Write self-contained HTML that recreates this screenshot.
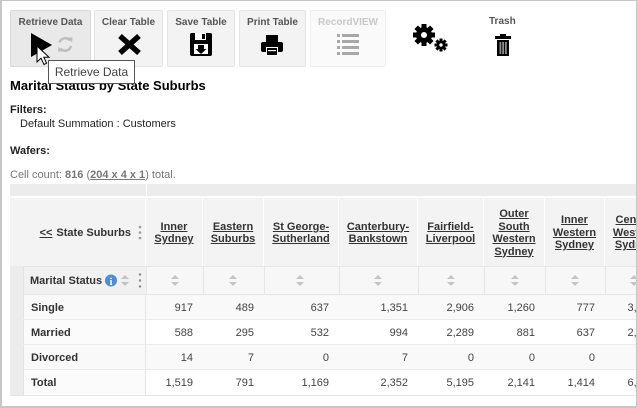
<!DOCTYPE html>
<html><head><meta charset="utf-8">
<style>
*{margin:0;padding:0;box-sizing:border-box}
html,body{width:637px;height:408px;overflow:hidden;background:#fff;font-family:"Liberation Sans",Arial,sans-serif;color:#333}
.frame{position:absolute;left:0;top:0;width:637px;height:408px;border-left:2px solid #c6c6c6;border-top:1px solid #c6c6c6;border-right:1px solid #c6c6c6;border-bottom:2px solid #c6c6c6;z-index:50;pointer-events:none}
.a{position:absolute}
.btn{position:absolute;top:10px;height:57px;background:#f3f3f3;border:1px solid #e4e4e4;border-radius:2px}
.btn .lb{position:absolute;left:0;right:0;top:6px;text-align:center;font-size:10px;line-height:12px;font-weight:bold;color:#555;white-space:nowrap}
.txt{position:absolute;white-space:nowrap;font-size:11px;line-height:13px}
.b{font-weight:bold}
.clip{position:absolute;left:2px;top:0;width:634px;height:406px;overflow:hidden}
.cell{position:absolute;top:0;height:100%}
.hd{display:flex;align-items:center;justify-content:center;text-align:center;font-size:11px;font-weight:bold;line-height:12.5px;color:#333;padding-top:2px}
.hd span{text-decoration:underline}
.num{text-align:right;padding-right:10px;font-size:11px;color:#444;padding-top:2px}
.rl{font-size:11px;font-weight:bold;color:#333;padding-left:7px;padding-top:2px}
</style></head><body>
<div class="frame"></div>

<!-- toolbar -->
<div class="btn" style="left:10px;width:81px;background:#e9e9e9;border-color:#dadada"><div class="lb">Retrieve Data</div></div>
<div class="btn" style="left:94px;width:69px"><div class="lb">Clear Table</div></div>
<div class="btn" style="left:167px;width:68px"><div class="lb">Save Table</div></div>
<div class="btn" style="left:239px;width:67px"><div class="lb">Print Table</div></div>
<div class="btn" style="left:310px;width:76px;background:#fafafa;border-color:#efefef"><div class="lb" style="color:#c8c8c8">RecordVIEW</div></div>
<div class="txt b" style="left:489px;top:16px;font-size:10px;line-height:12px;color:#555">Trash</div>

<svg class="a" style="left:0;top:0" width="637" height="100" viewBox="0 0 637 100">
  <!-- play -->
  <polygon points="31,33 52,45 31,57" fill="#000"/>
  <!-- refresh -->
  <g fill="none" stroke="#bdbdbd" stroke-width="2.4">
    <path d="M59.5,42.5 A6,6 0 0 1 70,40.5"/>
    <path d="M71,46 A6,6 0 0 1 60.5,48.5"/>
  </g>
  <polygon points="68,37.5 72.5,37.5 72,42.5" fill="#bdbdbd"/>
  <polygon points="62.5,51.5 58,51.5 58.5,46.5" fill="#bdbdbd"/>
  <!-- cursor -->
  <path d="M37,46 L37,62 L41,58.2 L44,64.5 L46.6,63.3 L43.8,57.2 L49,57.2 Z" fill="#fff" stroke="#000" stroke-width="1"/>
  <!-- X -->
  <g stroke="#000" stroke-width="5.5"><line x1="120" y1="36" x2="139" y2="53"/><line x1="139" y1="36" x2="120" y2="53"/></g>
  <!-- floppy -->
  <rect x="190" y="33" width="22" height="23" rx="2" fill="#000"/>
  <rect x="195" y="33" width="11" height="7" fill="#fff"/>
  <rect x="202" y="34" width="3" height="5" fill="#000"/>
  <rect x="194" y="44" width="14" height="10" fill="#fff"/>
  <polygon points="198,45 204,45 204,49 206.5,49 201,54 195.5,49 198,49" fill="#000"/>
  <!-- printer -->
  <rect x="266" y="35" width="12" height="7" fill="#000"/>
  <rect x="261" y="42" width="22" height="10" rx="2" fill="#000"/>
  <rect x="266" y="47" width="12" height="9" fill="#fff"/>
  <rect x="267" y="48" width="10" height="7" fill="#000"/>
  <rect x="268" y="50" width="8" height="1.2" fill="#fff"/>
  <!-- list -->
  <g fill="#a8a8a8">
    <rect x="337" y="34" width="3" height="3"/><rect x="342" y="34" width="17" height="3"/>
    <rect x="337" y="40" width="3" height="3"/><rect x="342" y="40" width="17" height="3"/>
    <rect x="337" y="46" width="3" height="3"/><rect x="342" y="46" width="17" height="3"/>
    <rect x="337" y="52" width="3" height="3"/><rect x="342" y="52" width="17" height="3"/>
  </g>
  <!-- gears -->
  <g fill="#000">
    <circle cx="424" cy="35" r="8"/>
    <g transform="translate(424,35)">
      <rect x="-2.5" y="-11" width="5" height="22"/>
      <rect x="-2.5" y="-11" width="5" height="22" transform="rotate(45)"/>
      <rect x="-2.5" y="-11" width="5" height="22" transform="rotate(90)"/>
      <rect x="-2.5" y="-11" width="5" height="22" transform="rotate(135)"/>
    </g>
    <circle cx="441" cy="45" r="4.5"/>
    <g transform="translate(441,45)">
      <rect x="-1.5" y="-6.5" width="3" height="13"/>
      <rect x="-1.5" y="-6.5" width="3" height="13" transform="rotate(45)"/>
      <rect x="-1.5" y="-6.5" width="3" height="13" transform="rotate(90)"/>
      <rect x="-1.5" y="-6.5" width="3" height="13" transform="rotate(135)"/>
    </g>
  </g>
  <circle cx="424" cy="35" r="3" fill="#fff"/>
  <circle cx="441" cy="45" r="1.7" fill="#fff"/>
  <!-- trash -->
  <rect x="500" y="34" width="6" height="2.5" fill="#000"/>
  <rect x="495" y="36" width="16" height="3" fill="#000"/>
  <rect x="497" y="40" width="12" height="16" fill="#000"/>
  <g fill="#8a8a8a"><rect x="499.5" y="42" width="1.8" height="12"/><rect x="502.2" y="42" width="1.8" height="12"/><rect x="505" y="42" width="1.8" height="12"/></g>
</svg>

<!-- title & info -->
<div class="txt b" style="left:10px;top:78px;font-size:13px;line-height:16px;color:#000">Marital Status by State Suburbs</div>
<div class="a" style="left:48px;top:60px;width:87px;height:24px;background:#fff;border:1px solid #555;z-index:20;font-size:12px;line-height:23px;color:#444;text-align:center;white-space:nowrap">Retrieve Data</div>

<div class="txt b" style="left:10px;top:104px;color:#222">Filters:</div>
<div class="txt" style="left:20px;top:118px;color:#222">Default Summation : Customers</div>
<div class="txt b" style="left:10px;top:145px;color:#222">Wafers:</div>
<div class="txt" style="left:10px;top:169px;color:#777">Cell count: <b>816</b> (<span style="text-decoration:underline;font-weight:bold">204 x 4 x 1</span>) total.</div>

<!-- table -->
<div class="clip">
 <div style="position:absolute;left:-2px;top:0;width:700px;height:406px">
  <!-- top bar -->
  <div class="a" style="left:10px;top:184px;width:690px;height:12px;background:#ececec"></div>
  <div class="a" style="left:146px;top:184px;width:1px;height:12px;background:#fff"></div>
  <!-- header row -->
  <div class="a" style="left:10px;top:197px;width:690px;height:69px;background:#f3f3f3;border-top:1px solid #fff">
    <div class="cell hd" style="left:0;width:136px;justify-content:flex-end;padding-right:14px;border-right:1px solid #fff"><span style="margin-right:4px">&lt;&lt;</span>State Suburbs</div>
    <div class="cell hd" style="left:136px;width:57px;border-right:1px solid #fff"><span>Inner<br>Sydney</span></div>
    <div class="cell hd" style="left:193px;width:61px;border-right:1px solid #fff"><span>Eastern<br>Suburbs</span></div>
    <div class="cell hd" style="left:254px;width:75px;border-right:1px solid #fff"><span>St George-<br>Sutherland</span></div>
    <div class="cell hd" style="left:329px;width:79px;border-right:1px solid #fff"><span>Canterbury-<br>Bankstown</span></div>
    <div class="cell hd" style="left:408px;width:66px;border-right:1px solid #fff"><span>Fairfield-<br>Liverpool</span></div>
    <div class="cell hd" style="left:474px;width:61px;border-right:1px solid #fff"><span>Outer<br>South<br>Western<br>Sydney</span></div>
    <div class="cell hd" style="left:535px;width:60px;border-right:1px solid #fff"><span>Inner<br>Western<br>Sydney</span></div>
    <div class="cell hd" style="left:595px;width:60px;border-right:1px solid #fff"><span>Central<br>Western<br>Sydney</span></div>
  </div>
  <svg class="a" style="left:136px;top:224px" width="8" height="18">
    <circle cx="4" cy="3" r="1.3" fill="#999"/><circle cx="4" cy="8.5" r="1.3" fill="#999"/><circle cx="4" cy="14" r="1.3" fill="#999"/>
  </svg>
  <!-- sort row -->
  <div class="a" style="left:10px;top:266px;width:690px;height:29px;background:#f7f7f7;border-top:1px solid #e6e6e6;border-bottom:1px solid #e6e6e6"></div>
  <div class="a" style="left:10px;top:266px;width:13px;height:129px;background:#ececec"></div>
  <div class="a" style="left:23px;top:267px;width:123px;height:27px;background:#f1f1f1;border-left:1px solid #e2e2e2"></div>
  <div class="txt b" style="left:30px;top:275px;color:#333">Marital Status</div>
  <svg class="a" style="left:100px;top:266px" width="50" height="29">
    <circle cx="11" cy="14.5" r="6" fill="#4a8fd6"/>
    <text x="11" y="19" font-family="Liberation Serif,serif" font-weight="bold" font-size="10" fill="#fff" text-anchor="middle">i</text>
    <polygon points="21,13 25,9 29,13" fill="#c4c4c4"/>
    <polygon points="21,16 25,20 29,16" fill="#c4c4c4"/>
    <circle cx="40" cy="8.5" r="1.2" fill="#888"/><circle cx="40" cy="14.5" r="1.2" fill="#888"/><circle cx="40" cy="20.5" r="1.2" fill="#888"/>
  </svg>
  <svg class="a" style="left:0;top:266px" width="700" height="29">
    <g stroke="#e6e6e6" stroke-width="1">
      <line x1="146.5" y1="0" x2="146.5" y2="29"/><line x1="203.5" y1="0" x2="203.5" y2="29"/><line x1="264.5" y1="0" x2="264.5" y2="29"/>
      <line x1="339.5" y1="0" x2="339.5" y2="29"/><line x1="418.5" y1="0" x2="418.5" y2="29"/><line x1="484.5" y1="0" x2="484.5" y2="29"/>
      <line x1="545.5" y1="0" x2="545.5" y2="29"/><line x1="605.5" y1="0" x2="605.5" y2="29"/>
    </g>
    <g fill="#c4c4c4">
      <polygon points="171,13 175,9 179,13"/><polygon points="171,16 175,20 179,16"/>
      <polygon points="229,13 233,9 237,13"/><polygon points="229,16 233,20 237,16"/>
      <polygon points="296,13 300,9 304,13"/><polygon points="296,16 300,20 304,16"/>
      <polygon points="374,13 378,9 382,13"/><polygon points="374,16 378,20 382,16"/>
      <polygon points="447,13 451,9 455,13"/><polygon points="447,16 451,20 455,16"/>
      <polygon points="511,13 515,9 519,13"/><polygon points="511,16 515,20 519,16"/>
      <polygon points="571,13 575,9 579,13"/><polygon points="571,16 575,20 579,16"/>
      <polygon points="630,13 634,9 638,13"/><polygon points="630,16 634,20 638,16"/>
    </g>
  </svg>

  <!-- data rows -->
  <div class="a" style="left:23px;top:295px;width:677px;height:25px;background:#f9f9f9;border-bottom:1px solid #ebebeb">
    <div class="cell rl" style="left:0;width:123px;line-height:22px;border-left:1px solid #e2e2e2;border-right:1px solid #e6e6e6">Single</div>
    <div class="cell num" style="left:123px;width:57px;line-height:22px">917</div>
    <div class="cell num" style="left:180px;width:61px;line-height:22px">489</div>
    <div class="cell num" style="left:241px;width:75px;line-height:22px">637</div>
    <div class="cell num" style="left:316px;width:79px;line-height:22px">1,351</div>
    <div class="cell num" style="left:395px;width:66px;line-height:22px">2,906</div>
    <div class="cell num" style="left:461px;width:61px;line-height:22px">1,260</div>
    <div class="cell num" style="left:522px;width:60px;line-height:22px">777</div>
    <div class="cell num" style="left:582px;width:60px;line-height:22px">3,393</div>
  </div>
  <div class="a" style="left:23px;top:320px;width:677px;height:25px;background:#fff;border-bottom:1px solid #ebebeb">
    <div class="cell rl" style="left:0;width:123px;line-height:22px;border-left:1px solid #e2e2e2;border-right:1px solid #e6e6e6;background:#fbfbfb">Married</div>
    <div class="cell num" style="left:123px;width:57px;line-height:22px">588</div>
    <div class="cell num" style="left:180px;width:61px;line-height:22px">295</div>
    <div class="cell num" style="left:241px;width:75px;line-height:22px">532</div>
    <div class="cell num" style="left:316px;width:79px;line-height:22px">994</div>
    <div class="cell num" style="left:395px;width:66px;line-height:22px">2,289</div>
    <div class="cell num" style="left:461px;width:61px;line-height:22px">881</div>
    <div class="cell num" style="left:522px;width:60px;line-height:22px">637</div>
    <div class="cell num" style="left:582px;width:60px;line-height:22px">2,680</div>
  </div>
  <div class="a" style="left:23px;top:345px;width:677px;height:25px;background:#f9f9f9;border-bottom:1px solid #ebebeb">
    <div class="cell rl" style="left:0;width:123px;line-height:22px;border-left:1px solid #e2e2e2;border-right:1px solid #e6e6e6">Divorced</div>
    <div class="cell num" style="left:123px;width:57px;line-height:22px">14</div>
    <div class="cell num" style="left:180px;width:61px;line-height:22px">7</div>
    <div class="cell num" style="left:241px;width:75px;line-height:22px">0</div>
    <div class="cell num" style="left:316px;width:79px;line-height:22px">7</div>
    <div class="cell num" style="left:395px;width:66px;line-height:22px">0</div>
    <div class="cell num" style="left:461px;width:61px;line-height:22px">0</div>
    <div class="cell num" style="left:522px;width:60px;line-height:22px">0</div>
    <div class="cell num" style="left:582px;width:60px;line-height:22px">0</div>
  </div>
  <div class="a" style="left:23px;top:370px;width:677px;height:26px;background:#fff;border-bottom:1px solid #e6e6e6">
    <div class="cell rl" style="left:0;width:123px;line-height:23px;border-left:1px solid #e2e2e2;border-right:1px solid #e6e6e6;background:#fbfbfb">Total</div>
    <div class="cell num" style="left:123px;width:57px;line-height:23px">1,519</div>
    <div class="cell num" style="left:180px;width:61px;line-height:23px">791</div>
    <div class="cell num" style="left:241px;width:75px;line-height:23px">1,169</div>
    <div class="cell num" style="left:316px;width:79px;line-height:23px">2,352</div>
    <div class="cell num" style="left:395px;width:66px;line-height:23px">5,195</div>
    <div class="cell num" style="left:461px;width:61px;line-height:23px">2,141</div>
    <div class="cell num" style="left:522px;width:60px;line-height:23px">1,414</div>
    <div class="cell num" style="left:582px;width:60px;line-height:23px">6,073</div>
  </div>
  <div class="a" style="left:10px;top:395px;width:13px;height:1px;background:#e6e6e6"></div>
 </div>
</div>
</body></html>
